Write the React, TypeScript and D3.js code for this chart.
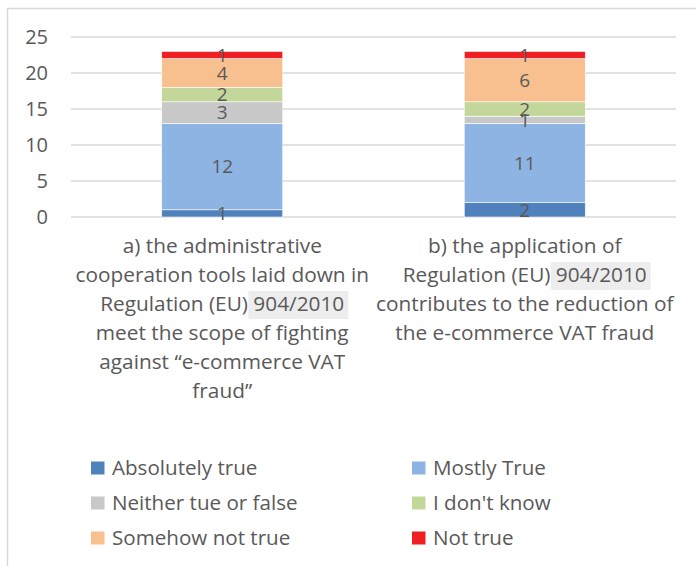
import React, { useEffect, useRef } from "react";
import * as d3 from "d3";

const categories = ["a", "b"];
const categoryLines = [
  [
    "a) the administrative",
    "cooperation tools laid down in",
    "Regulation (EU) 904/2010",
    "meet the scope of fighting",
    "against \u201ce-commerce VAT",
    "fraud\u201d",
  ],
  [
    "b) the application of",
    "Regulation (EU) 904/2010",
    "contributes to the reduction of",
    "the e-commerce VAT fraud",
  ],
];
const seriesNames = [
  "Absolutely true",
  "Mostly True",
  "Neither tue or false",
  "I don't know",
  "Somehow not true",
  "Not true",
];
const seriesColors = ["#4f81bd", "#8eb4e3", "#c8c8c8", "#c4d79b", "#f9c08f", "#ee2024"];
const valuesA = [1, 12, 3, 2, 4, 1];
const valuesB = [2, 11, 1, 2, 6, 1];
const yTicks = [0, 5, 10, 15, 20, 25];

const FONT = "'Open Sans', sans-serif";
const TEXT = "#595959";

const App = () => {
  const svgRef = useRef(null);

  useEffect(() => {
    const width = 696;
    const height = 566;
    const margin = { top: 37, left: 71, right: 20, bottom: 349 };
    const svg = d3.select(svgRef.current);
    svg.selectAll("*").remove();

    // frame (only top and left edges show in the crop)
    svg.append("line").attr("x1", 7).attr("x2", width).attr("y1", 8.5).attr("y2", 8.5)
      .attr("stroke", "#d9d9d9").attr("stroke-width", 1.5);
    svg.append("line").attr("x1", 7.5).attr("x2", 7.5).attr("y1", 8).attr("y2", height)
      .attr("stroke", "#d9d9d9").attr("stroke-width", 1.5);

    const x = d3.scaleBand().domain(categories).range([margin.left, 676]);
    const y = d3.scaleLinear().domain([0, 25]).range([height - margin.bottom, margin.top]);
    const barW = x.bandwidth() * 0.4;

    // gridlines
    svg.append("g").selectAll("line").data(yTicks).enter().append("line")
      .attr("x1", x.range()[0]).attr("x2", x.range()[1])
      .attr("y1", d => y(d)).attr("y2", d => y(d))
      .attr("stroke", "#d9d9d9").attr("stroke-width", 1.5);

    // y axis labels
    svg.append("g").selectAll("text").data(yTicks).enter().append("text")
      .attr("x", 48).attr("y", d => y(d)).attr("dy", "0.36em")
      .attr("text-anchor", "end")
      .style("font-family", FONT).style("font-size", "20px").attr("fill", TEXT)
      .text(d => d);

    const table = categories.map((c, i) => {
      const vals = i === 0 ? valuesA : valuesB;
      const row: any = { cat: c };
      seriesNames.forEach((s, j) => (row[s] = vals[j]));
      return row;
    });
    const stacked = d3.stack().keys(seriesNames)(table);

    // bars
    svg.append("g").selectAll("g").data(stacked).enter().append("g")
      .attr("fill", (d, i) => seriesColors[i])
      .selectAll("rect").data(d => d).enter().append("rect")
      .attr("x", d => x(d.data.cat) + (x.bandwidth() - barW) / 2)
      .attr("width", barW)
      .attr("y", d => y(d[1]))
      .attr("height", d => y(d[0]) - y(d[1]))
      .attr("stroke", "#ffffff").attr("stroke-width", 0.6);

    // data labels on top of all bars
    svg.append("g").selectAll("g").data(stacked).enter().append("g")
      .selectAll("text").data(d => d).enter().append("text")
      .attr("x", d => x(d.data.cat) + x.bandwidth() / 2)
      .attr("y", d => (y(d[0]) + y(d[1])) / 2)
      .attr("dy", "0.36em")
      .attr("text-anchor", "middle")
      .style("font-family", FONT).style("font-size", "19px").attr("fill", TEXT)
      .text(d => d[1] - d[0]);

    // category labels
    categories.forEach((c, i) => {
      const cx = x(c) + x.bandwidth() / 2;
      categoryLines[i].forEach((line, k) => {
        const ty = 246 + k * 29;
        const hlIdx = line.indexOf("904/2010");
        const hl = hlIdx >= 0 ? svg.append("rect").attr("fill", "#ededed") : null;
        const t = svg.append("text")
          .attr("x", cx).attr("y", ty).attr("dy", "0.36em")
          .attr("text-anchor", "middle")
          .style("font-family", FONT).style("font-size", "20.8px").attr("fill", TEXT)
          .text(line);
        if (hl) {
          const node = t.node() as SVGTextElement;
          const start = node.getStartPositionOfChar(hlIdx).x;
          const len = node.getSubStringLength(hlIdx, 8);
          hl.attr("x", start - 5).attr("y", ty - 13).attr("width", len + 9).attr("height", 28);
        }
      });
    });

    // legend
    const legendX = [91, 412];
    const legendY = [468, 503, 538];
    seriesNames.forEach((s, i) => {
      const lx = legendX[i % 2];
      const ly = legendY[Math.floor(i / 2)];
      svg.append("rect").attr("x", lx).attr("y", ly - 6.5).attr("width", 13.5).attr("height", 13)
        .attr("fill", seriesColors[i]);
      svg.append("text").attr("x", lx + 21).attr("y", ly).attr("dy", "0.36em")
        .style("font-family", FONT).style("font-size", "20.6px").attr("fill", TEXT)
        .text(s);
    });
  }, []);

  return (
    <svg
      ref={svgRef}
      width={696}
      height={566}
      style={{ position: "absolute", left: 0, top: 0, background: "#fff" }}
    />
  );
};

export default App;
